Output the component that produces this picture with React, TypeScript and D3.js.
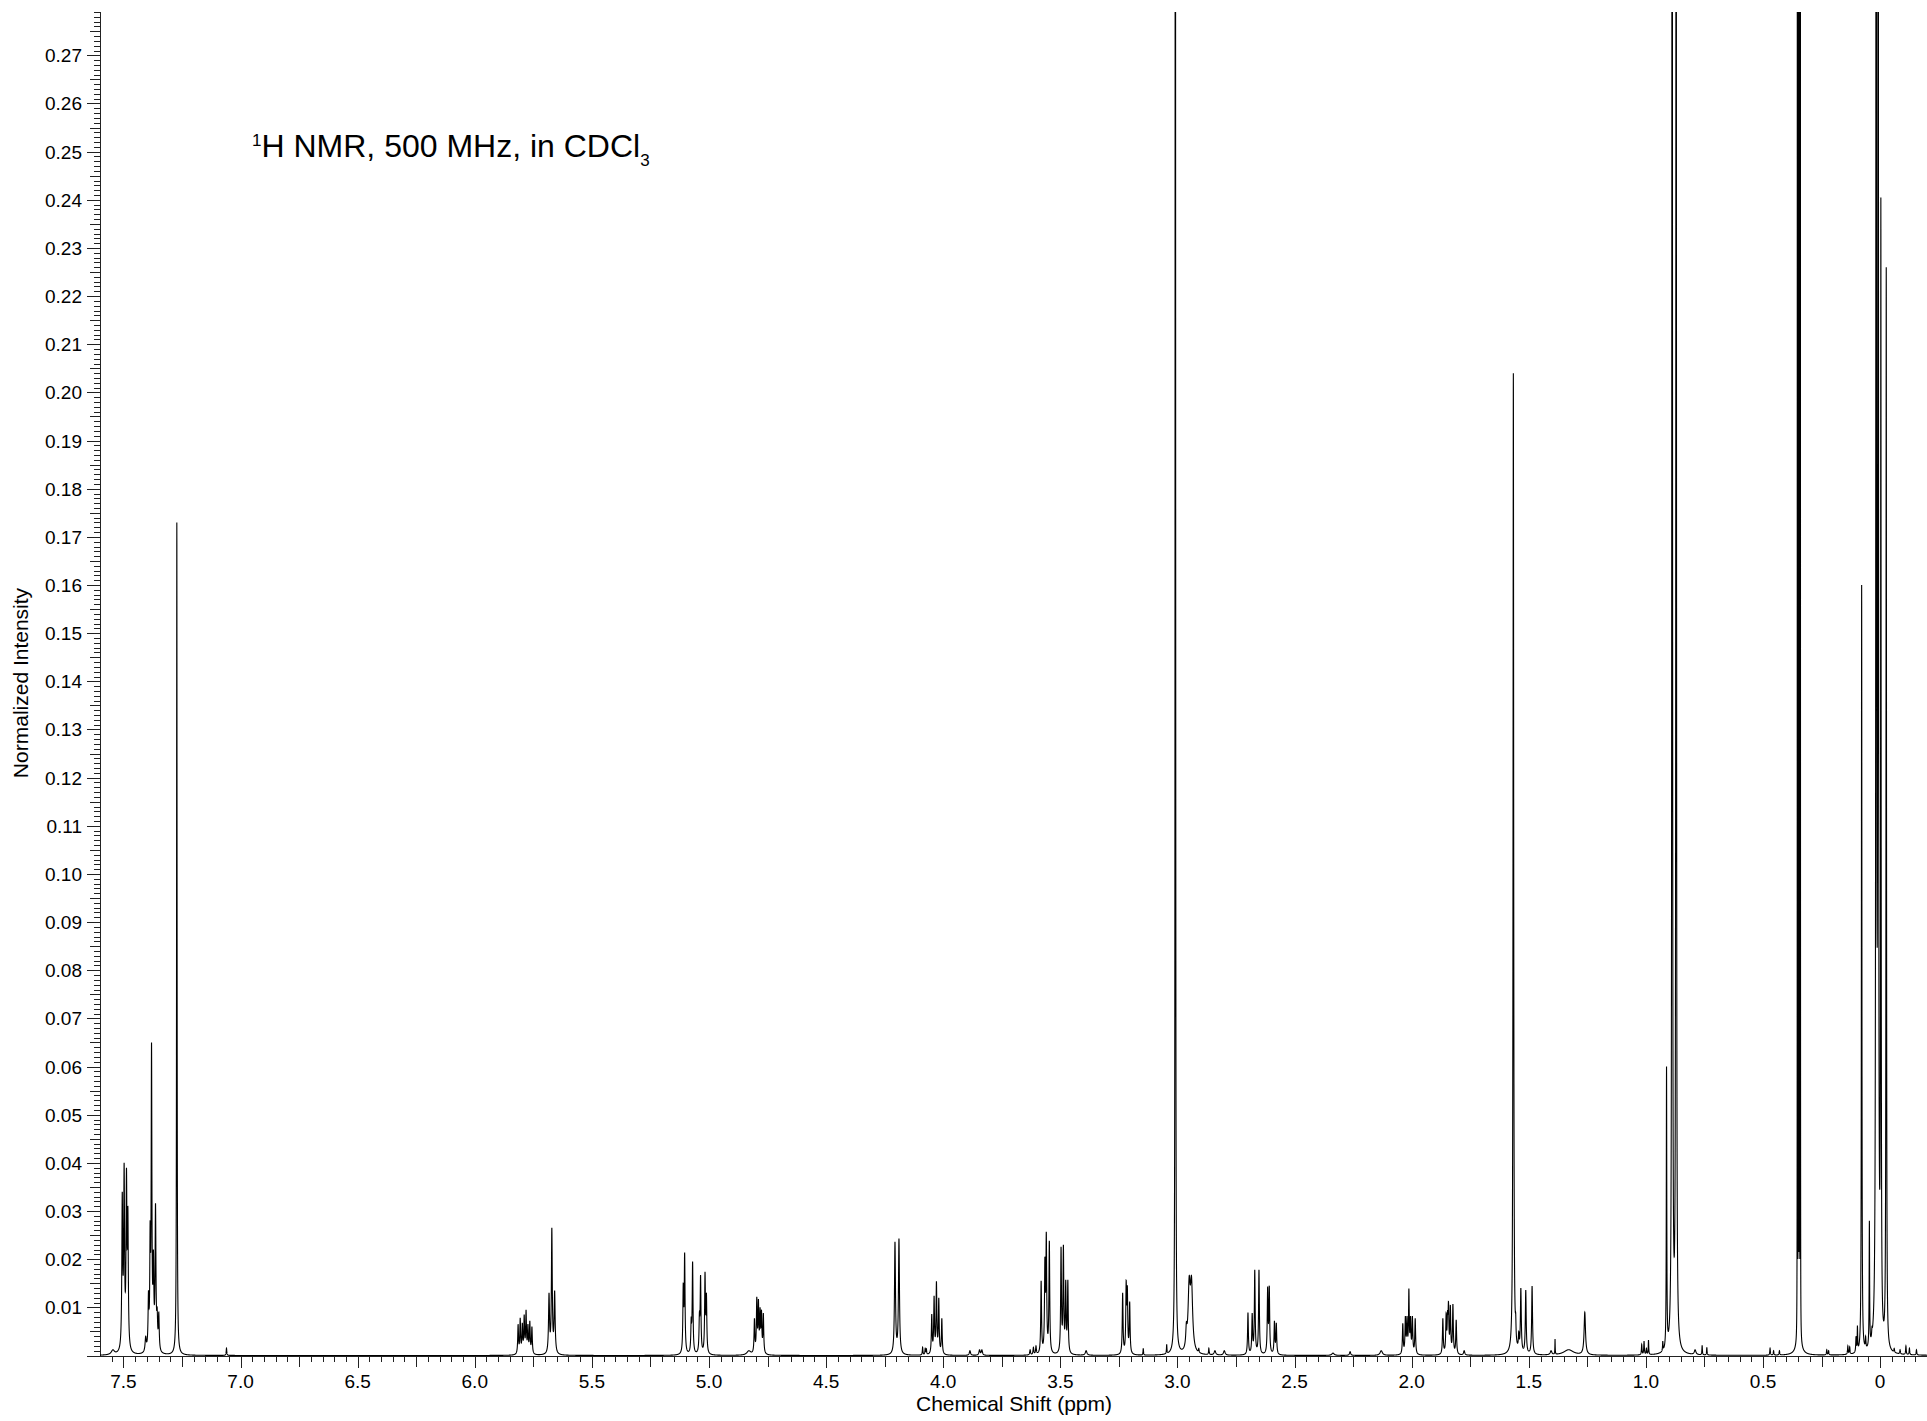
import React, { useMemo } from "react";
import * as d3 from "d3";

const WIDTH = 1927;
const HEIGHT = 1421;

// Peak tables: [chemical shift (ppm), apex intensity, half-width at half-height (ppm)]
const aromaticPeaks: [number, number, number][] = [
  [7.545, 0.0012, 0.008],
  [7.505, 0.034, 0.0022],
  [7.497, 0.04, 0.0022],
  [7.487, 0.039, 0.0022],
  [7.481, 0.031, 0.0022],
  [7.405, 0.004, 0.003],
  [7.393, 0.0135, 0.0022],
  [7.386, 0.028, 0.0018],
  [7.38, 0.065, 0.0018],
  [7.372, 0.022, 0.0022],
  [7.363, 0.0316, 0.0022],
  [7.356, 0.01, 0.0022],
  [7.349, 0.009, 0.0022],
  [7.272, 0.173, 0.0012],
  [7.06, 0.0015, 0.0015],
];

const olefinicPeaks: [number, number, number][] = [
  [5.815, 0.0065, 0.002],
  [5.806, 0.0078, 0.002],
  [5.797, 0.0068, 0.002],
  [5.789, 0.0085, 0.002],
  [5.781, 0.0095, 0.002],
  [5.773, 0.0065, 0.002],
  [5.765, 0.0072, 0.002],
  [5.756, 0.006, 0.002],
  [5.683, 0.013, 0.0025],
  [5.671, 0.0265, 0.0022],
  [5.659, 0.0135, 0.0025],
  [5.11, 0.015, 0.002],
  [5.104, 0.0214, 0.002],
  [5.076, 0.008, 0.002],
  [5.07, 0.0195, 0.002],
  [5.041, 0.009, 0.002],
  [5.036, 0.0167, 0.002],
  [5.017, 0.0174, 0.002],
  [5.011, 0.0129, 0.002],
  [4.83, 0.001, 0.01],
  [4.806, 0.0077, 0.002],
  [4.796, 0.0122, 0.002],
  [4.789, 0.0117, 0.002],
  [4.782, 0.01, 0.002],
  [4.776, 0.0095, 0.002],
  [4.768, 0.0088, 0.002],
];

const midfieldPeaks: [number, number, number][] = [
  [4.206, 0.0236, 0.0025],
  [4.189, 0.0243, 0.0025],
  [4.088, 0.0017, 0.0015],
  [4.077, 0.0015, 0.0015],
  [4.072, 0.0014, 0.0015],
  [4.049, 0.0086, 0.002],
  [4.039, 0.0124, 0.002],
  [4.029, 0.0154, 0.002],
  [4.019, 0.012, 0.002],
  [4.006, 0.0077, 0.002],
  [3.886, 0.001, 0.003],
  [3.845, 0.0012, 0.003],
  [3.835, 0.0012, 0.003],
  [3.629, 0.0012, 0.002],
  [3.615, 0.0017, 0.002],
  [3.604, 0.002, 0.002],
  [3.582, 0.0155, 0.002],
  [3.566, 0.0205, 0.002],
  [3.56, 0.0257, 0.002],
  [3.547, 0.0238, 0.002],
  [3.497, 0.0226, 0.002],
  [3.487, 0.023, 0.002],
  [3.477, 0.0157, 0.002],
  [3.468, 0.0157, 0.002],
  [3.39, 0.001, 0.004],
  [3.234, 0.013, 0.002],
  [3.219, 0.0156, 0.002],
  [3.214, 0.0145, 0.002],
  [3.204, 0.0112, 0.002],
  [3.146, 0.0015, 0.0012],
  [3.046, 0.0023, 0.0012],
  [3.009, 0.7, 0.0008],
  [2.962, 0.007, 0.003],
  [2.95, 0.0165, 0.0055],
  [2.94, 0.0165, 0.0055],
  [2.909, 0.0015, 0.0015],
  [2.866, 0.0015, 0.0015],
  [2.84, 0.001, 0.004],
  [2.8, 0.001, 0.004],
  [2.699, 0.0089, 0.002],
  [2.681, 0.0088, 0.002],
  [2.67, 0.0178, 0.002],
  [2.652, 0.0178, 0.002],
  [2.615, 0.0143, 0.002],
  [2.608, 0.0145, 0.002],
  [2.586, 0.0072, 0.002],
  [2.578, 0.0068, 0.002],
  [2.336, 0.0005, 0.006],
  [2.263, 0.0008, 0.003],
  [2.13, 0.001, 0.006],
];

const aliphaticPeaks: [number, number, number][] = [
  [2.038, 0.0067, 0.002],
  [2.027, 0.0082, 0.002],
  [2.02, 0.0082, 0.002],
  [2.012, 0.0139, 0.0018],
  [2.005, 0.0082, 0.002],
  [1.997, 0.0082, 0.002],
  [1.985, 0.0077, 0.002],
  [1.867, 0.0077, 0.002],
  [1.853, 0.0088, 0.002],
  [1.847, 0.0094, 0.002],
  [1.843, 0.0112, 0.002],
  [1.835, 0.0105, 0.002],
  [1.824, 0.0107, 0.002],
  [1.81, 0.0074, 0.002],
  [1.776, 0.001, 0.003],
  [1.566, 0.204, 0.0016],
  [1.556, 0.0088, 0.0015],
  [1.543, 0.005, 0.002],
  [1.534, 0.014, 0.0022],
  [1.513, 0.0136, 0.0022],
  [1.486, 0.0144, 0.0022],
  [1.405, 0.001, 0.004],
  [1.388, 0.0034, 0.0008],
  [1.33, 0.0012, 0.025],
  [1.261, 0.009, 0.0035],
  [1.018, 0.0023, 0.0015],
  [1.008, 0.003, 0.0015],
  [0.998, 0.0015, 0.0015],
  [0.989, 0.0032, 0.0012],
  [0.928, 0.003, 0.0012],
  [0.912, 0.06, 0.0012],
  [0.888, 0.55, 0.0012],
  [0.871, 0.5, 0.0012],
  [0.88, 0.003, 0.03],
  [0.79, 0.0012, 0.004],
  [0.76, 0.0021, 0.0012],
  [0.74, 0.0017, 0.0012],
  [0.47, 0.0015, 0.0015],
  [0.455, 0.001, 0.0015],
  [0.43, 0.001, 0.0015],
];

// The 0.35 ppm band: closely spaced sharp lines on a broad foot
const silylPeaks: [number, number, number][] = [
  [0.347, 0.0215, 0.013],
  [0.3535, 0.6, 0.00025],
  [0.3492, 0.65, 0.00025],
  [0.3449, 0.65, 0.00025],
  [0.3406, 0.6, 0.00025],
  [0.228, 0.0012, 0.0015],
  [0.22, 0.001, 0.0015],
  [0.138, 0.002, 0.0015],
  [0.13, 0.0018, 0.0015],
  [0.103, 0.004, 0.0015],
  [0.097, 0.0062, 0.0012],
  [0.079, 0.16, 0.0012],
  [0.062, 0.004, 0.0015],
  [0.046, 0.028, 0.0012],
  [0.035, 0.006, 0.0015],
  [0.017, 0.6, 0.0012],
  [0.0085, 0.55, 0.0012],
  [-0.003, 0.2405, 0.0012],
  [-0.026, 0.226, 0.0012],
  [-0.06, 0.0015, 0.0015],
  [-0.085, 0.0012, 0.0015],
  [-0.11, 0.002, 0.0015],
  [-0.125, 0.0015, 0.0015],
  [-0.155, 0.0012, 0.0015],
];

// Axis settings (values in data units)
const shiftDomain: [number, number] = [7.6, -0.2];
const intensityDomain: [number, number] = [0, 0.279];
const xMajorTicks = d3.range(0, 16).map((i) => i * 0.5);
const yMajorTicks = d3.range(1, 28).map((i) => i / 100);

const allPeaks = [
  ...aromaticPeaks,
  ...olefinicPeaks,
  ...midfieldPeaks,
  ...aliphaticPeaks,
  ...silylPeaks,
];

const lorentz = (d: number, w: number) => (w * w) / (d * d + w * w);

function buildSpectrum(peaks: [number, number, number][]) {
  const n = peaks.length;
  // Scale each line so that the summed curve reaches the listed apex height.
  const amp = peaks.map((p) => p[1]);
  for (let it = 0; it < 40; it++) {
    for (let i = 0; i < n; i++) {
      let s = 0;
      for (let j = 0; j < n; j++) {
        if (j === i) continue;
        s += amp[j] * lorentz(peaks[i][0] - peaks[j][0], peaks[j][2]);
      }
      amp[i] = Math.max(0, peaks[i][1] - s);
    }
  }
  const xs = d3.range(shiftDomain[1], shiftDomain[0] + 1e-9, 0.0002);
  peaks.forEach((p) => xs.push(p[0]));
  xs.sort((a, b) => a - b);
  return xs.map((x) => {
    let v = 0;
    for (let j = 0; j < n; j++) v += amp[j] * lorentz(x - peaks[j][0], peaks[j][2]);
    return [x, v] as [number, number];
  });
}

export default function App() {
  const left = 100;
  const right = 1927;
  const top = 12;
  const bottom = 1355.5;

  const x = d3.scaleLinear().domain(shiftDomain).range([left, right]);
  const y = d3.scaleLinear().domain(intensityDomain).range([bottom, top]);

  const spectrum = useMemo(() => buildSpectrum(allPeaks), []);
  const path = useMemo(
    () =>
      d3
        .line<[number, number]>()
        .x((d) => x(d[0]))
        .y((d) => y(d[1]))(spectrum) || "",
    [spectrum]
  );

  const xMinor = d3.range(-4, 153).map((i) => i * 0.05).filter((v) => v >= -0.2 && v <= 7.6);
  const yMinor = d3.range(0, 280).map((i) => i / 1000);
  const font = "'Liberation Sans', Arial, Helvetica, sans-serif";
  const axisColor = "#222";

  return (
    <svg
      width={WIDTH}
      height={HEIGHT}
      style={{ position: "absolute", left: 0, top: 0, background: "#fff" }}
      fontFamily={font}
    >
      <rect x={0} y={0} width={WIDTH} height={HEIGHT} fill="#fff" />
      <defs>
        <clipPath id="plotClip">
          <rect x={left} y={top} width={right - left} height={HEIGHT - top} />
        </clipPath>
      </defs>

      {/* y axis */}
      <g stroke={axisColor} strokeWidth={1}>
        <line x1={left + 0.5} x2={left + 0.5} y1={top} y2={bottom + 1} />
        {yMinor.map((v, i) => {
          const len = i % 10 === 0 ? 13 : i % 5 === 0 ? 10 : 6;
          const yy = Math.round(y(v)) + 0.5;
          return <line key={"ym" + i} x1={left - len} x2={left} y1={yy} y2={yy} />;
        })}
      </g>
      <g fontSize={19} fill="#000" textAnchor="end">
        {yMajorTicks.map((v) => (
          <text key={"yl" + v} x={82} y={y(v) + 7}>
            {v.toFixed(2)}
          </text>
        ))}
      </g>

      {/* x axis */}
      <g stroke={axisColor} strokeWidth={1}>
        <line x1={left} x2={right} y1={Math.round(bottom) + 0.5} y2={Math.round(bottom) + 0.5} />
        {xMinor.map((v, i) => {
          const k = Math.round(v * 20);
          const len = k % 10 === 0 ? 12 : k % 5 === 0 ? 11 : 6;
          const xx = Math.round(x(v)) + 0.5;
          return (
            <line key={"xm" + i} x1={xx} x2={xx} y1={Math.round(bottom)} y2={Math.round(bottom) + len} />
          );
        })}
      </g>
      <g fontSize={19} fill="#000" textAnchor="middle">
        {xMajorTicks.map((v) => (
          <text key={"xl" + v} x={x(v)} y={1388}>
            {v === 0 ? "0" : v.toFixed(1)}
          </text>
        ))}
      </g>

      {/* spectrum trace */}
      <path d={path} fill="none" stroke="#000" strokeWidth={1.1} clipPath="url(#plotClip)" />

      {/* labels */}
      <text x={1014} y={1411} fontSize={21} textAnchor="middle" fill="#000">
        Chemical Shift (ppm)
      </text>
      <text
        transform={`translate(28,683) rotate(-90)`}
        fontSize={21}
        textAnchor="middle"
        fill="#000"
      >
        Normalized Intensity
      </text>
      <text x={252} y={157} fontSize={32} fill="#000">
        <tspan fontSize={17} dy={-11}>
          1
        </tspan>
        <tspan dy={11}>H NMR, 500 MHz, in CDCl</tspan>
        <tspan fontSize={17} dy={9}>
          3
        </tspan>
      </text>
    </svg>
  );
}
